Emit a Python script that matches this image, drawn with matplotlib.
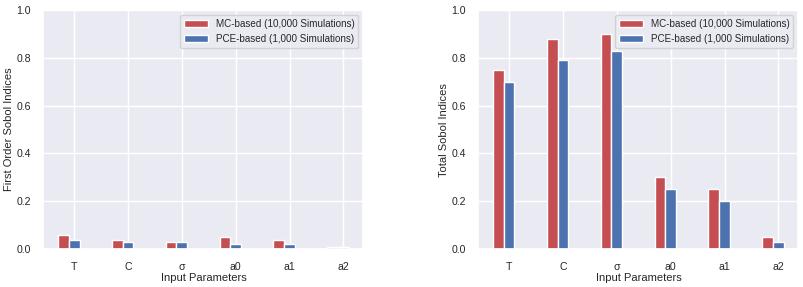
import numpy as np
import matplotlib
matplotlib.use('Agg')
import matplotlib.pyplot as plt
import seaborn as sns

sns.set_theme(style='darkgrid', color_codes=True)
plt.rcParams['font.family'] = ['Liberation Sans', 'DejaVu Sans']

params = ['T', 'C', 'σ', 'a0', 'a1', 'a2']
first_mc = [0.06, 0.04, 0.03, 0.05, 0.04, 0.01]
first_pce = [0.04, 0.03, 0.03, 0.02, 0.02, 0.01]
total_mc = [0.75, 0.88, 0.90, 0.30, 0.25, 0.05]
total_pce = [0.70, 0.79, 0.83, 0.25, 0.20, 0.03]

fig = plt.figure(figsize=(8.04, 2.87), dpi=100)
ax1 = fig.add_axes([0.054, 0.132, 0.398, 0.833])
ax2 = fig.add_axes([0.595, 0.132, 0.398, 0.833])

x = np.arange(len(params))
w = 0.2
panels = [
    (ax1, first_mc, first_pce, 'First Order Sobol Indices'),
    (ax2, total_mc, total_pce, 'Total Sobol Indices'),
]
for ax, mc, pce, ylab in panels:
    ax.bar(x - w, mc, w, color='r', label='MC-based (10,000 Simulations)')
    ax.bar(x, pce, w, color='b', label='PCE-based (1,000 Simulations)')
    ax.set_xticks(x)
    ax.set_xticklabels(params)
    ax.set_ylim(0, 1)
    ax.set_xlabel('Input Parameters', fontsize=8, labelpad=1)
    ax.set_ylabel(ylab, fontsize=8, labelpad=2)
    ax.tick_params(labelsize=7.6, pad=3)
    ax.legend(loc='upper right', fontsize=7.1, handlelength=2.4)

fig.savefig('out.png', dpi=100)
